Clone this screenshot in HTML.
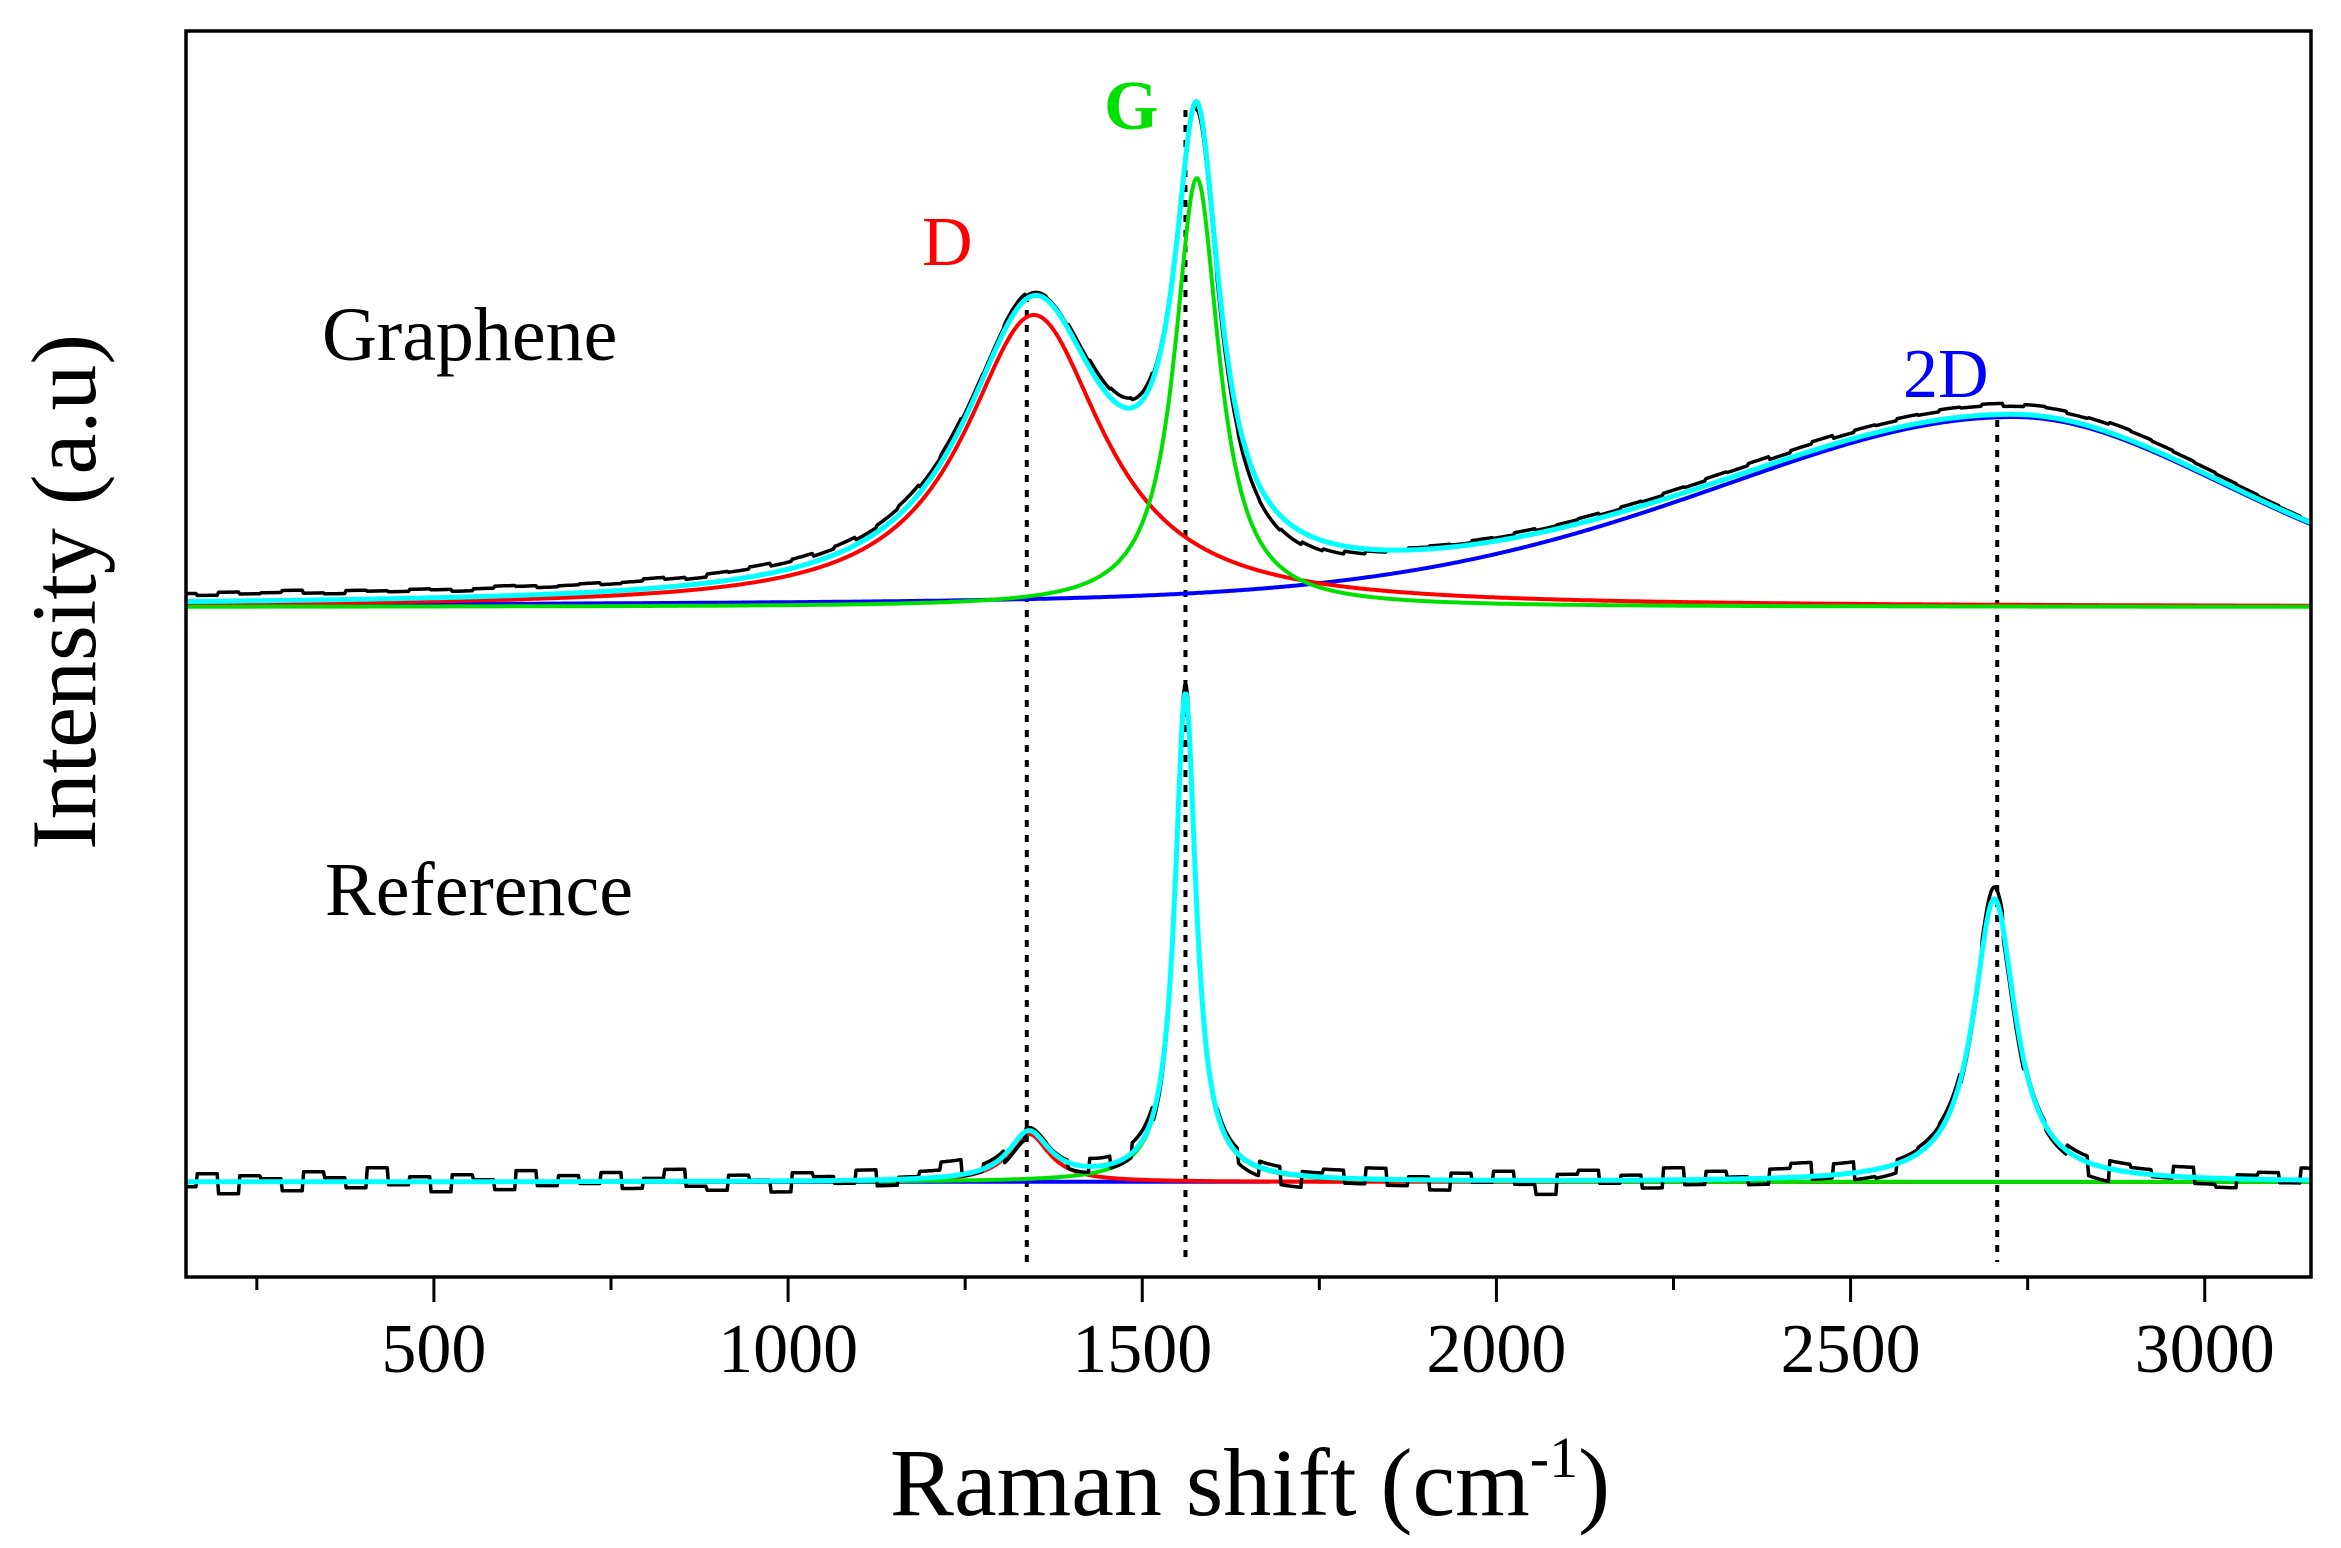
<!DOCTYPE html>
<html><head><meta charset="utf-8"><style>
html,body{margin:0;padding:0;background:#fff;}
svg{display:block;font-family:"Liberation Serif",serif;}
</style></head><body>
<svg id="chart" width="2341" height="1548" viewBox="0 0 2341 1548" xmlns="http://www.w3.org/2000/svg">
<rect x="0" y="0" width="2341" height="1548" fill="#fff"/>
<g id="plot"></g>
<g id="axes"></g>
<text x="322" y="360" font-size="76">Graphene</text>
<text x="325" y="915" font-size="76">Reference</text>
<text x="922" y="265" font-size="70" fill="#ff0000">D</text>
<text x="1104" y="129" font-size="70" font-weight="bold" fill="#00e000">G</text>
<text x="1903" y="397" font-size="70" fill="#0000ff">2D</text>
<text x="1250" y="1515" font-size="96" text-anchor="middle">Raman shift (cm<tspan dy="-38" font-size="58">-1</tspan><tspan dy="38">)</tspan></text>
<text transform="translate(95,592) rotate(-90)" font-size="92" text-anchor="middle">Intensity (a.u)</text>
</svg>
<script>
// ---- data ----
const xTicks = [500, 1000, 1500, 2000, 2500, 3000];
const xMinorTicks = [250, 750, 1250, 1750, 2250, 2750];
const xDomain = [150, 3150];
// graphene fit components: D, G, 2D
const grCenters = [1347, 1577, 2730];
const grHeights = [292, 429, 190];
const grWidthsL = [120, 38, 520];
const grWidthsR = [120, 38, 380];
const grLorentzFrac = [1, 1, 0.3];
// reference fit components: D, G, 2D
const refCenters = [1340, 1561, 2703];
const refHeights = [48, 488, 283];
const refWidths = [35, 18, 36];
// measured residuals (sampled every 30 cm-1 from 150)
const grResidual = [8,6,9,7,8,10,7,6,9,8,7,9,8,6,8,10,9,7,8,9,7,8,10,8,6,9,8,10,7,9,
 6,8,5,7,9,6,8,5,4,6, 3,2,5,8,10,8, 4,0,-8, -12,-14,-15,-13,-10,-8,-5,
 -2,0,2,3,2,4,3,5,3,4,5,3,5,4,6, 5,7,6,8,5,7,9,6,8,7,
 9,8,10,9,11,8,10,9,7,8,10,9,8,7,6,5,4,3,2,1];
const refResidual = [-5,8,-12,6,3,-9,10,4,-6,14,-3,5,-10,7,2,-8,11,-4,6,-2,
 9,-7,3,12,-5,-9,6,1,-11,8,4,-3,10,-6,2,7,15,-2,5,-8,
 3,2,-6,8,-4,10,-7,9,-3,5,-9,6,-12,4,8,-5,11,-6,3,-10,
 7,-2,9,-4,-14,6,10,-3,5,-8,12,-5,8,2,-6,9,14,-3,11,-7,
 -9,4,6,8,-5,12,-10,3,-4,6,-13,8,5,-2,10,-6,-9,4,7,-3,12];
const peakMarkers = [1337, 1561, 2707];
const markerTops = [295, 110, 420];

// ---- layout ----
const L = 186, R = 2311, T = 31, B = 1277;
const grBase = 607, refBase = 1182;
const NS = 'http://www.w3.org/2000/svg';
function xs(v){ return L + (v - xDomain[0]) * (R - L) / (xDomain[1] - xDomain[0]); }
function mk(tag, attrs, parent){ const e = document.createElementNS(NS, tag); for (const k in attrs) e.setAttribute(k, attrs[k]); parent.appendChild(e); return e; }
function comp(v, c, h, wl, wr, eta){
  const w = v < c ? wl : wr; const q = ((v - c) / w) ** 2;
  return h * (eta / (1 + q) + (1 - eta) * Math.exp(-Math.LN2 * q));
}
function grComp(i, v){ return comp(v, grCenters[i], grHeights[i], grWidthsL[i], grWidthsR[i], grLorentzFrac[i]); }
function refComp(i, v){ return comp(v, refCenters[i], refHeights[i], refWidths[i], refWidths[i], 1); }
const plot = document.getElementById('plot');
const axes = document.getElementById('axes');
function path(fn, base, color, w, name, resid){
  let d = '';
  for (let v = xDomain[0]; v <= xDomain[1]; v += 2){
    let I = fn(v);
    if (resid) I += resid[Math.min(resid.length - 1, Math.round((v - xDomain[0]) / 30))];
    d += (d ? 'L' : 'M') + xs(v).toFixed(1) + ',' + (base - I).toFixed(1);
  }
  const p = mk('path', {d: d, fill: 'none', stroke: color, 'stroke-width': w, 'stroke-linejoin': 'round'}, plot);
  
  
}
const colors = ['#ff0000', '#00e000', '#0000ff'];
const names = ['d', 'g', '2d'];
for (let i = 0; i < peakMarkers.length; i++){
  const ln = mk('line', {x1: xs(peakMarkers[i]), x2: xs(peakMarkers[i]), y1: markerTops[i], y2: 1262, stroke: '#000', 'stroke-width': 4, 'stroke-dasharray': '7,8'}, plot);
  
  
}
for (const i of [2, 0, 1]) path(v => grComp(i, v), grBase, colors[i], 4, 'graphene-fit-' + names[i]);
const grSum = v => grComp(0, v) + grComp(1, v) + grComp(2, v);
path(grSum, grBase, '#000', 3.5, 'graphene-spectrum', grResidual);
path(grSum, grBase, '#00ffff', 5, 'graphene-fit-total');
for (const i of [2, 0, 1]) path(v => refComp(i, v), refBase, colors[i], 4, 'reference-fit-' + names[i]);
const refSum = v => refComp(0, v) + refComp(1, v) + refComp(2, v);
path(refSum, refBase, '#000', 3.5, 'reference-spectrum', refResidual);
path(refSum, refBase, '#00ffff', 5, 'reference-fit-total');
const fr = mk('rect', {x: L, y: T, width: R - L, height: B - T, fill: 'none', stroke: '#000', 'stroke-width': 3.5}, axes);


for (const t of xTicks){
  const tk = mk('line', {x1: xs(t), x2: xs(t), y1: B, y2: B + 25, stroke: '#000', 'stroke-width': 3}, axes);
  
  
  const tl = mk('text', {x: xs(t), y: 1372, 'font-size': 70, 'text-anchor': 'middle'}, axes);
  tl.textContent = t;
  
  
}
for (const t of xMinorTicks){
  const tk = mk('line', {x1: xs(t), x2: xs(t), y1: B, y2: B + 13, stroke: '#000', 'stroke-width': 3}, axes);
  
  
}
</script>
</body></html>
